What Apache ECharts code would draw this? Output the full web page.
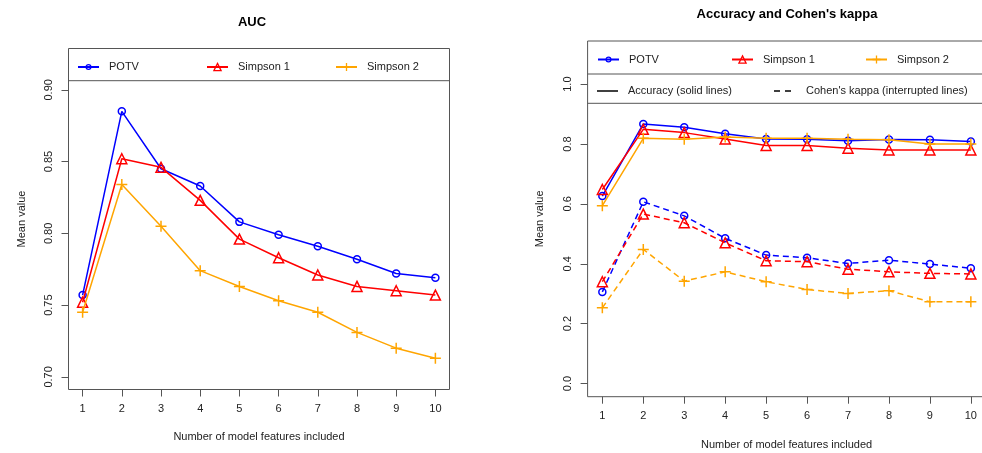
<!DOCTYPE html>
<html><head><meta charset="utf-8">
<script src="https://cdn.jsdelivr.net/npm/echarts@6/dist/echarts.min.js"></script>
<style>html,body{margin:0;padding:0;background:#fff}#c{width:982px;height:453px}</style>
</head><body><div id="c"></div>
<script>
// ---- data ----
const features = [1, 2, 3, 4, 5, 6, 7, 8, 9, 10];
const aucPOTV     = [0.757, 0.885, 0.845, 0.833, 0.808, 0.799, 0.791, 0.782, 0.772, 0.769];
const aucSimpson1 = [0.752, 0.852, 0.846, 0.823, 0.796, 0.783, 0.771, 0.763, 0.760, 0.757];
const aucSimpson2 = [0.745, 0.834, 0.805, 0.774, 0.763, 0.753, 0.745, 0.731, 0.720, 0.713];
const accPOTV     = [0.626, 0.867, 0.856, 0.834, 0.817, 0.816, 0.811, 0.815, 0.814, 0.808];
const accSimpson1 = [0.648, 0.849, 0.838, 0.817, 0.795, 0.795, 0.786, 0.780, 0.780, 0.780];
const accSimpson2 = [0.594, 0.819, 0.816, 0.823, 0.819, 0.819, 0.816, 0.814, 0.800, 0.800];
const kapPOTV     = [0.306, 0.607, 0.560, 0.485, 0.429, 0.420, 0.401, 0.412, 0.399, 0.385];
const kapSimpson1 = [0.340, 0.566, 0.537, 0.470, 0.410, 0.407, 0.382, 0.373, 0.368, 0.366];
const kapSimpson2 = [0.253, 0.448, 0.342, 0.373, 0.340, 0.314, 0.301, 0.310, 0.273, 0.273];
const aucTicks = [0.70, 0.75, 0.80, 0.85, 0.90];
const accTicks = [0.0, 0.2, 0.4, 0.6, 0.8, 1.0];
const seriesNames = ['POTV', 'Simpson 1', 'Simpson 2'];
const titleLeft = 'AUC';
const titleRight = "Accuracy and Cohen's kappa";
const xLabel = 'Number of model features included';
const yLabel = 'Mean value';
const lineTypeLabels = ['Accuracy (solid lines)', "Cohen's kappa (interrupted lines)"];

// ---- style ----
const FONT = 'Liberation Sans, Arial, sans-serif';
const colors = ['#0000ff', '#ff0000', '#ffa500'];
const plusPath = 'path://M0,5L10,5M5,0L5,10';
const symbols = ['circle', 'triangle', plusPath];
const symbolSizes = [7, 10, 11];
const boxColor = '#555';
const textColor = '#222';

function pairs(vals) { return features.map((f, i) => [f, vals[i]]); }
function mkSeries(idx, vals, axisIdx, dashed) {
  return {
    type: 'line', name: seriesNames[idx], xAxisIndex: axisIdx, yAxisIndex: axisIdx,
    data: pairs(vals), symbol: symbols[idx], symbolSize: symbolSizes[idx],
    lineStyle: { color: colors[idx], width: 1.5, type: dashed ? [6, 4] : 'solid' },
    itemStyle: { color: 'rgba(0,0,0,0)', borderColor: colors[idx], borderWidth: 1.5 },
    emphasis: { disabled: true }, z: 2 + idx
  };
}
function mkX(gi) {
  return {
    gridIndex: gi, type: 'value', min: 0.64, max: 10.36,
    axisLine: { show: false, onZero: false }, splitLine: { show: false },
    axisTick: { show: true, length: 7, lineStyle: { color: boxColor }, customValues: features },
    axisLabel: { customValues: features, margin: 14, fontSize: 11, color: textColor, fontFamily: FONT },
    name: xLabel, nameLocation: 'middle', nameGap: 42,
    nameTextStyle: { fontSize: 11, color: textColor, fontFamily: FONT }
  };
}
function mkY(gi, min, max, ticks, dec) {
  return {
    gridIndex: gi, type: 'value', min: min, max: max,
    axisLine: { show: false, onZero: false }, splitLine: { show: false },
    axisTick: { show: true, length: 7, lineStyle: { color: boxColor }, customValues: ticks },
    axisLabel: { customValues: ticks, rotate: 90, margin: 14, fontSize: 11, color: textColor, fontFamily: FONT,
      formatter: v => Number(v).toFixed(dec) },
    name: yLabel, nameLocation: 'middle', nameRotate: 90, nameGap: 41,
    nameTextStyle: { fontSize: 11, color: textColor, fontFamily: FONT }
  };
}
function mkLegend(idx, left, top, ih) {
  return {
    data: [seriesNames[idx]], left: left, top: top, itemWidth: 21, itemHeight: ih,
    padding: 0, selectedMode: false,
    itemStyle: { color: 'rgba(0,0,0,0)', borderColor: colors[idx], borderWidth: 1.3 },
    textStyle: { fontSize: 11, color: textColor, fontFamily: FONT, padding: [0, 0, 0, 5] }
  };
}

const G0 = { left: 68.5, top: 48.5, width: 381, height: 341 };
const G1 = { left: 587.6, top: 41, width: 398, height: 355.7 };

const chart = echarts.init(document.getElementById('c'), null, { renderer: 'canvas' });
chart.setOption({
  animation: false,
  textStyle: { fontFamily: FONT },
  title: [
    { text: titleLeft, left: 252, top: 16, textAlign: 'center', padding: 0,
      textStyle: { fontSize: 13, fontWeight: 'bold', color: '#000', fontFamily: FONT } },
    { text: titleRight, left: 787, top: 8, textAlign: 'center', padding: 0,
      textStyle: { fontSize: 13, fontWeight: 'bold', color: '#000', fontFamily: FONT } }
  ],
  grid: [
    Object.assign({ show: true, borderColor: boxColor, borderWidth: 1, containLabel: false, outerBoundsMode: 'none' }, G0),
    Object.assign({ show: true, borderColor: boxColor, borderWidth: 1, containLabel: false, outerBoundsMode: 'none' }, G1)
  ],
  xAxis: [mkX(0), Object.assign(mkX(1), { nameGap: 43 })],
  yAxis: [mkY(0, 0.6912, 0.9288, aucTicks, 2), Object.assign(mkY(1, -0.044, 1.144, accTicks, 1), { nameGap: 42 })],
  legend: [
    mkLegend(0, 77, 61.5, 6), mkLegend(1, 206, 61.5, 9), mkLegend(2, 335, 61.5, 10),
    mkLegend(0, 597, 54, 6), mkLegend(1, 731, 54, 9), mkLegend(2, 865, 54, 10)
  ],
  graphic: [
    { type: 'line', shape: { x1: G0.left, y1: 80.7, x2: G0.left + G0.width, y2: 80.7 }, style: { stroke: boxColor, lineWidth: 1 } },
    { type: 'line', shape: { x1: G1.left, y1: 74, x2: G1.left + G1.width, y2: 74 }, style: { stroke: boxColor, lineWidth: 1 } },
    { type: 'line', shape: { x1: G1.left, y1: 103.3, x2: G1.left + G1.width, y2: 103.3 }, style: { stroke: boxColor, lineWidth: 1 } },
    { type: 'line', shape: { x1: 597, y1: 91, x2: 618, y2: 91 }, style: { stroke: '#000', lineWidth: 1.5 } },
    { type: 'text', x: 628, y: 91, style: { text: lineTypeLabels[0], fontSize: 11, fill: textColor, fontFamily: FONT, verticalAlign: 'middle' } },
    { type: 'line', shape: { x1: 774, y1: 91, x2: 794, y2: 91 }, style: { stroke: '#000', lineWidth: 1.5, lineDash: [6, 5] } },
    { type: 'text', x: 806, y: 91, style: { text: lineTypeLabels[1], fontSize: 11, fill: textColor, fontFamily: FONT, verticalAlign: 'middle' } }
  ],
  series: [
    mkSeries(0, aucPOTV, 0, false), mkSeries(1, aucSimpson1, 0, false), mkSeries(2, aucSimpson2, 0, false),
    mkSeries(0, accPOTV, 1, false), mkSeries(1, accSimpson1, 1, false), mkSeries(2, accSimpson2, 1, false),
    mkSeries(0, kapPOTV, 1, true), mkSeries(1, kapSimpson1, 1, true), mkSeries(2, kapSimpson2, 1, true)
  ]
});
</script></body></html>
